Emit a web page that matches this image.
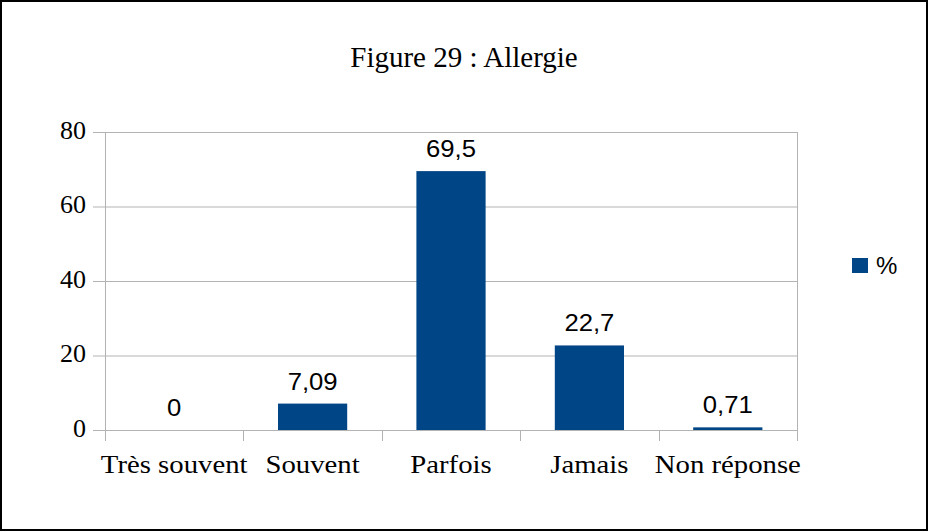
<!DOCTYPE html>
<html>
<head>
<meta charset="utf-8">
<script src="https://cdn.jsdelivr.net/npm/d3@7"></script>
<style>
  html, body { margin: 0; padding: 0; background: #fff; }
  svg { display: block; }
</style>
</head>
<body>
<div id="chart"></div>
<script>
// Chart data
const categories = ['Très souvent', 'Souvent', 'Parfois', 'Jamais', 'Non réponse'];
const values = [0, 7.09, 69.5, 22.7, 0.71];
const valueLabels = ['0', '7,09', '69,5', '22,7', '0,71'];
const yTicks = [0, 20, 40, 60, 80];
const seriesName = '%';
const title = 'Figure 29 : Allergie';

drawChart();

function drawChart() {
  // svg size
  const w = 928;
  const h = 531;

  // plot area
  const left = 105;
  const right = 797;
  const top = 132;
  const bottom = 430;

  const serif = '"Liberation Serif", "DejaVu Serif", serif';
  const sans = '"Liberation Sans", Arial, sans-serif';
  const grey = '#b3b3b3';
  const blue = '#004586';

  const svg = d3
      .select('#chart')
      .append('svg')
      .attr('width', w)
      .attr('height', h);

  // outer frame
  svg.append('rect')
      .attr('x', 1)
      .attr('y', 1)
      .attr('width', w - 2)
      .attr('height', h - 2)
      .attr('fill', '#fff')
      .attr('stroke', '#000')
      .attr('stroke-width', 2);

  // Scales
  const xScale = d3
      .scaleBand()
      .domain(categories)
      .range([left, right])
      .paddingInner(0)
      .paddingOuter(0);

  const yScale = d3
      .scaleLinear()
      .domain([0, 80])
      .range([bottom, top]);

  // grid lines
  svg.append('g')
      .selectAll('line')
      .data(yTicks)
      .enter()
      .append('line')
      .attr('x1', left - 12)
      .attr('x2', right)
      .attr('y1', (d) => yScale(d) + 0.5)
      .attr('y2', (d) => yScale(d) + 0.5)
      .attr('stroke', grey)
      .attr('stroke-width', 1);

  // y-axis line
  svg.append('line')
      .attr('x1', left + 0.5)
      .attr('x2', left + 0.5)
      .attr('y1', top)
      .attr('y2', bottom + 11)
      .attr('stroke', grey);

  // right edge line
  svg.append('line')
      .attr('x1', right + 0.5)
      .attr('x2', right + 0.5)
      .attr('y1', top)
      .attr('y2', bottom + 11)
      .attr('stroke', grey);

  // category boundary ticks
  svg.append('g')
      .selectAll('line')
      .data(categories.slice(1))
      .enter()
      .append('line')
      .attr('x1', (d) => Math.round(xScale(d)) + 0.5)
      .attr('x2', (d) => Math.round(xScale(d)) + 0.5)
      .attr('y1', bottom)
      .attr('y2', bottom + 11)
      .attr('stroke', grey);

  // y tick labels
  svg.append('g')
      .selectAll('text')
      .data(yTicks)
      .enter()
      .append('text')
      .attr('transform', (d) => 'translate(86,' + (yScale(d) + 6.5) + ') scale(1.04,1)')
      .attr('text-anchor', 'end')
      .attr('font-family', serif)
      .attr('font-size', 25)
      .attr('fill', '#000')
      .text((d) => d);

  // x tick labels (slightly stretched, as in the source picture)
  svg.append('g')
      .selectAll('text')
      .data(categories)
      .enter()
      .append('text')
      .attr('transform', (d) =>
        'translate(' + (xScale(d) + xScale.bandwidth() / 2) + ',473) scale(1.15,1)')
      .attr('text-anchor', 'middle')
      .attr('font-family', serif)
      .attr('font-size', 25)
      .attr('fill', '#000')
      .text((d) => d);

  // bars
  const barW = xScale.bandwidth() * 0.5;
  svg.append('g')
      .selectAll('rect')
      .data(values)
      .enter()
      .append('rect')
      .attr('x', (d, i) => xScale(categories[i]) + (xScale.bandwidth() - barW) / 2)
      .attr('y', (d) => yScale(d))
      .attr('width', barW)
      .attr('height', (d) => bottom - yScale(d))
      .attr('fill', blue);

  // value labels
  svg.append('g')
      .selectAll('text')
      .data(values)
      .enter()
      .append('text')
      .attr('transform', (d, i) =>
        'translate(' + (xScale(categories[i]) + xScale.bandwidth() / 2) + ',' +
        (yScale(d) - 14) + ') scale(1.07,1)')
      .attr('text-anchor', 'middle')
      .attr('font-family', sans)
      .attr('font-size', 24)
      .attr('fill', '#000')
      .text((d, i) => valueLabels[i]);

  // title
  svg.append('text')
      .attr('x', w / 2)
      .attr('y', 67)
      .attr('text-anchor', 'middle')
      .attr('font-family', serif)
      .attr('font-size', 29)
      .attr('fill', '#000')
      .text(title);

  // legend
  svg.append('rect')
      .attr('x', 852)
      .attr('y', 258)
      .attr('width', 16)
      .attr('height', 15)
      .attr('fill', blue);

  svg.append('text')
      .attr('x', 876)
      .attr('y', 274)
      .attr('font-family', sans)
      .attr('font-size', 24)
      .attr('fill', '#000')
      .text(seriesName);
}
</script>
</body>
</html>
